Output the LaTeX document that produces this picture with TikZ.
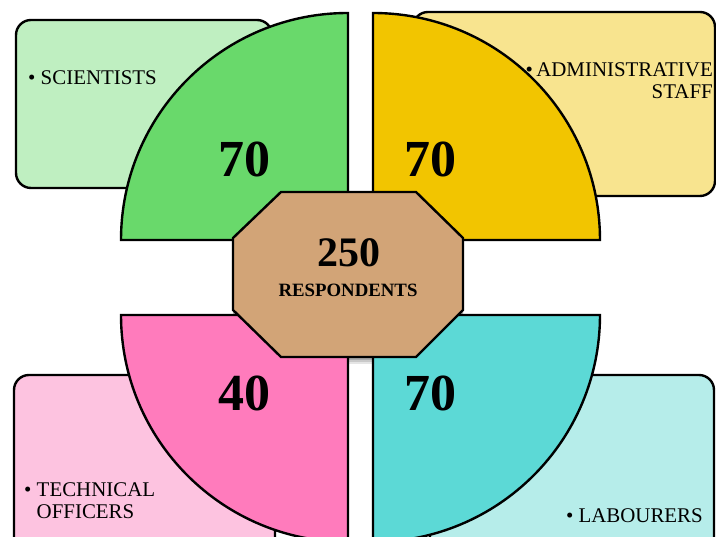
\documentclass[tikz,border=0pt]{standalone}
\usepackage{fontspec}
\setmainfont{Liberation Serif}
\definecolor{sciBox}{HTML}{BFEFC1}
\definecolor{sciPie}{HTML}{69D96B}
\definecolor{admBox}{HTML}{F8E48F}
\definecolor{admPie}{HTML}{F2C500}
\definecolor{tecBox}{HTML}{FDC3E0}
\definecolor{tecPie}{HTML}{FF7BBC}
\definecolor{labBox}{HTML}{B6EDEA}
\definecolor{labPie}{HTML}{5CD9D6}
\definecolor{hubFill}{HTML}{D2A477}
\tikzset{
  catbox/.style={draw=black, line width=2.4pt, rounded corners=15pt},
  pie/.style={draw=black, line width=2.4pt, line join=miter},
  hub/.style={draw=black, line width=2.4pt, fill=hubFill, line join=miter},
  catlabel/.style={inner sep=0pt, font=\fontsize{20.9}{22}\selectfont},
  bignum/.style={inner sep=0pt, anchor=base, font=\fontsize{52}{56}\selectfont\bfseries},
}
\begin{document}
\begin{tikzpicture}[x=1pt, y=1pt]
\useasboundingbox (0,0) rectangle (716,537);
\clip (0,0) rectangle (716,537);

% category boxes behind the quarter discs
\draw[catbox, fill=sciBox] (16,349) rectangle (272,517);
\draw[catbox, fill=admBox] (413,341) rectangle (715,525);
\draw[catbox, fill=tecBox] (14,-23) rectangle (275,162);
\draw[catbox, fill=labBox] (430,-23) rectangle (714,162);

% labels (base anchor of a two-line node sits on its last line)
\node[catlabel, anchor=base west] (sci) at (28,452) {• SCIENTISTS};
\node[catlabel, anchor=base east, align=right] (adm) at (713,438) {•\,ADMINISTRATIVE\\STAFF};
\node[catlabel, anchor=base west, align=left] (tec) at (24,18) {• TECHNICAL\\\hphantom{•\ }OFFICERS};
\node[catlabel, anchor=base east] (lab) at (703,14) {• LABOURERS};

% soft shadow of the central octagon
\foreach \o/\s in {0.10/7, 0.12/5, 0.15/3}{
  \fill[black, opacity=\o, shift={(0,-\s)}]
    (281,345) -- (416,345) -- (463,299) -- (463,227) -- (416,180) -- (281,180) -- (233,227) -- (233,299) -- cycle;
}

% quarter discs
\draw[pie, fill=sciPie] (348,297) -- (121,297) arc[start angle=180, end angle=90, radius=227pt] -- cycle;
\draw[pie, fill=admPie] (373,297) -- (373,524) arc[start angle=90, end angle=0, radius=227pt] -- cycle;
\draw[pie, fill=tecPie] (348,222) -- (121,222) arc[start angle=180, end angle=270, radius=227pt] -- cycle;
\draw[pie, fill=labPie] (373,222) -- (600,222) arc[start angle=0, end angle=-90, radius=227pt] -- cycle;

% central octagon
\draw[hub] (281,345) -- (416,345) -- (463,299) -- (463,227) -- (416,180) -- (281,180) -- (233,227) -- (233,299) -- cycle;

\node[bignum] (nsci) at (244,360) {70};
\node[bignum] (nadm) at (430,360) {70};
\node[bignum] (ntec) at (244,126) {40};
\node[bignum] (nlab) at (430,126) {70};

\node[inner sep=0pt, anchor=base, font=\fontsize{42}{46}\selectfont\bfseries] (total) at (348.5,270) {250};
\node[inner sep=0pt, anchor=base, font=\fontsize{18.8}{20}\selectfont\bfseries] (resp) at (348,240) {RESPONDENTS};
\end{tikzpicture}
\end{document}
